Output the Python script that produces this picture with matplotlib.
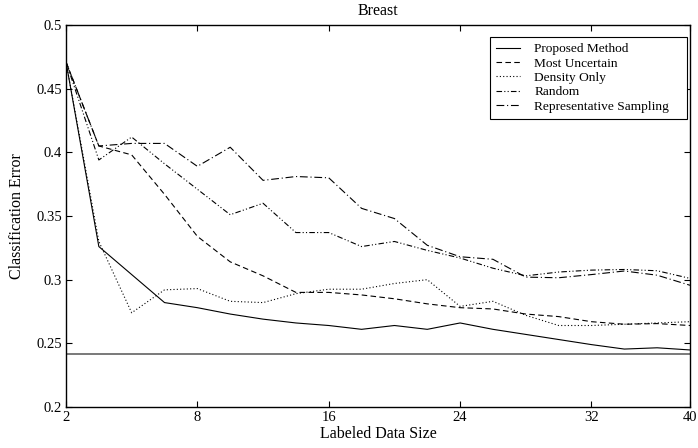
import numpy as np
import matplotlib
matplotlib.use("Agg")
import matplotlib.pyplot as plt

plt.rcParams['font.family'] = ['Liberation Serif', 'DejaVu Serif']
plt.rcParams['mathtext.fontset'] = 'stix'

# ---- data ----
title = "Breast"
xlabel = "Labeled Data Size"
ylabel = "Classification Error"
tick_labels = ["2", "8", "16", "24", "32", "40"]
tick_index = [0, 4, 8, 12, 16, 19]
steps = np.arange(20)

proposed = [0.471, 0.326, 0.304, 0.282, 0.278, 0.273, 0.269, 0.266, 0.264, 0.261,
            0.264, 0.261, 0.266, 0.261, 0.257, 0.253, 0.249, 0.2455, 0.2465, 0.2448]
most_uncertain = [0.471, 0.405, 0.398, 0.367, 0.334, 0.314, 0.303, 0.290, 0.290, 0.288,
                  0.285, 0.281, 0.278, 0.277, 0.273, 0.271, 0.267, 0.265, 0.2655, 0.264]
density_only = [0.471, 0.330, 0.274, 0.292, 0.293, 0.283, 0.282, 0.289, 0.2925, 0.2925,
                0.297, 0.300, 0.279, 0.283, 0.272, 0.264, 0.264, 0.265, 0.266, 0.267]
random_sel = [0.471, 0.394, 0.412, 0.391, 0.371, 0.351, 0.360, 0.337, 0.337, 0.326,
              0.330, 0.323, 0.317, 0.309, 0.303, 0.306, 0.3075, 0.308, 0.307, 0.301]
representative = [0.471, 0.405, 0.407, 0.407, 0.389, 0.404, 0.378, 0.381, 0.380, 0.356,
                  0.348, 0.327, 0.318, 0.316, 0.302, 0.3015, 0.304, 0.3068, 0.3035, 0.2956]
baseline = 0.242

series = [
    ("Proposed Method", proposed, '-'),
    ("Most Uncertain", most_uncertain, (0, (5, 3))),
    ("Density Only", density_only, (0, (1, 2))),
    ("Random", random_sel, (0, (5, 2, 1, 2, 1, 2))),
    ("Representative Sampling", representative, (0, (7, 2.5, 1, 2.5))),
]

fig = plt.figure(figsize=(6.98, 4.48), dpi=100)
ax = fig.add_axes([66/698, 41/448, 624/698, 382/448])

for name, vals, ls in series:
    ax.plot(steps, vals, color='black', linestyle=ls, linewidth=0.8, label=name)

ax.axhline(baseline, color='#555555', linewidth=1.1)

ax.set_xlim(steps[0], steps[-1])
ax.set_ylim(0.2, 0.5)
ax.set_xticks(tick_index)
ax.set_xticklabels(tick_labels)
yt = [0.2, 0.25, 0.3, 0.35, 0.4, 0.45, 0.5]
ax.set_yticks(yt)
ax.set_yticklabels(["0.2", "0.25", "0.3", "0.35", "0.4", "0.45", "0.5"])
ax.tick_params(direction='in', top=True, right=True, length=4, width=0.8,
               labelsize=10.5, pad=3)
for s in ax.spines.values():
    s.set_linewidth(1.0)

ax.set_title(title, fontsize=11.5, pad=7)
ax.set_xlabel(xlabel, fontsize=11.5, labelpad=1)
ax.set_ylabel(ylabel, fontsize=11.5, labelpad=8)

leg = ax.legend(loc='upper left', bbox_to_anchor=(0.679, 0.759, 0.316, 0.21),
                mode='expand', fontsize=9.6,
                frameon=True, fancybox=False, framealpha=1, edgecolor='black',
                handlelength=1.8, handletextpad=1.1, labelspacing=0.15,
                borderpad=0.45, borderaxespad=0)
leg.get_frame().set_linewidth(0.8)

fig.savefig("out.png", dpi=100)
